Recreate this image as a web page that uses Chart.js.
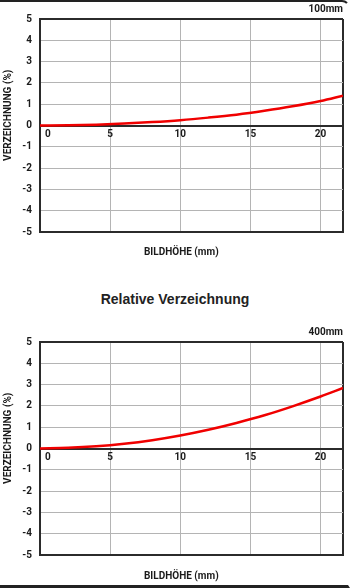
<!DOCTYPE html>
<html lang="de">
<head>
<meta charset="utf-8">
<title>Relative Verzeichnung</title>
<script src="https://cdn.jsdelivr.net/npm/chart.js@4/dist/chart.umd.min.js"></script>
<style>
  html, body { margin: 0; padding: 0; background: #fff; }
  body { width: 350px; height: 588px; position: relative; overflow: hidden; }
  .frame { position: absolute; left: -6px; top: 0; width: 354px; height: 583px;
           border-top: 2px solid #222; border-bottom: 3px solid #222; border-right: 2px solid transparent;
           border-radius: 0 8px 0 0; pointer-events: none; }
  canvas { position: absolute; left: 0; }
  #chart100 { top: 2px; }
  #chart400 { top: 325px; }
  .heading { position: absolute; top: 291px; left: 0; width: 350px; line-height: 16px;
             text-align: center; font: bold 14px "Liberation Sans", Arial, sans-serif; color: #222; }
</style>
</head>
<body>
<canvas id="chart100" width="350" height="258"></canvas>
<div class="heading">Relative Verzeichnung</div>
<canvas id="chart400" width="350" height="259"></canvas>
<div class="frame"></div>
<script>
// Bildhöhe in mm, Verzeichnung in %
const bildhoehe = [0, 2, 4, 6, 8, 10, 12, 14, 16, 18, 20, 21.6];
const verzeichnung100 = [0, 0.01, 0.04, 0.09, 0.16, 0.25, 0.37, 0.51, 0.69, 0.90, 1.15, 1.40];
const verzeichnung400 = [0, 0.03, 0.10, 0.22, 0.39, 0.61, 0.88, 1.20, 1.56, 1.98, 2.44, 2.84];
const xTicks = [0, 5, 10, 15, 20];
const yTicks = [-5, -4, -3, -2, -1, 0, 1, 2, 3, 4, 5];
const xMax = 21.6;

Chart.defaults.font.family = "Roboto, 'DejaVu Sans', sans-serif";
Chart.defaults.color = "#1a1a1a";

const frameColor = "#2b2b2b";
const gridColor = "#b4b4b4";
const gap = "\u2002\u2002\u2002\u2002"; // en spaces, pull the axis titles off-centre

function makeChart(id, focal, values, titleGap) {
  const ctx = document.getElementById(id).getContext("2d");
  return new Chart(ctx, {
    type: "line",
    data: {
      datasets: [{
        data: bildhoehe.map((x, i) => ({ x: x, y: values[i] })),
        borderColor: "#f00000",
        borderWidth: 2.5,
        pointRadius: 0,
        cubicInterpolationMode: "monotone",
        fill: false
      }]
    },
    options: {
      responsive: false,
      animation: false,
      devicePixelRatio: 1,
      layout: { padding: { left: 0, right: 7, top: 0, bottom: 0 } },
      plugins: {
        legend: { display: false },
        tooltip: { enabled: false },
        title: {
          display: true,
          text: focal,
          align: "end",
          font: { size: 10, weight: "bold" },
          color: "#1a1a1a",
          padding: { top: 1, bottom: 4 }
        }
      },
      scales: {
        // bottom axis only carries the title and the lower frame line
        x: {
          type: "linear",
          position: "bottom",
          min: 0,
          max: xMax,
          grid: { display: false, drawTicks: false },
          border: { display: true, color: frameColor, width: 2 },
          ticks: { display: false },
          title: {
            display: true,
            text: "BILDHÖHE (mm)" + gap,
            font: { size: 10, weight: "bold" },
            color: "#1a1a1a",
            padding: { top: titleGap, bottom: 2 }
          }
        },
        // tick axis sitting on the zero line
        xt: {
          type: "linear",
          position: { y: 0 },
          min: 0,
          max: xMax,
          afterBuildTicks: (axis) => {
            axis.ticks = xTicks.map(v => ({ value: v })).concat([{ value: xMax }]);
          },
          afterFit: (axis) => { axis.height = 0; },
          grid: {
            drawTicks: false,
            color: (c) => c.tick && c.tick.value === xMax ? frameColor : gridColor,
            lineWidth: (c) => c.tick && c.tick.value === xMax ? 2 : 1
          },
          border: { display: true, color: frameColor, width: 2 },
          ticks: {
            autoSkip: false,
            align: "inner",
            padding: 3,
            font: { size: 10, weight: "bold" },
            color: "#1a1a1a",
            callback: (v) => v === xMax ? "" : (v === 0 ? "\u20020" : String(v))
          }
        },
        y: {
          type: "linear",
          min: -5,
          max: 5,
          afterBuildTicks: (axis) => {
            axis.ticks = yTicks.map(v => ({ value: v }));
          },
          afterFit: (axis) => { axis.width = 40; },
          grid: {
            drawTicks: false,
            color: (c) => c.tick && c.tick.value === 5 ? frameColor : gridColor,
            lineWidth: (c) => c.tick && c.tick.value === 5 ? 2 : 1
          },
          border: { display: true, color: frameColor, width: 2 },
          ticks: {
            padding: 8,
            font: { size: 10, weight: "bold" },
            color: "#1a1a1a"
          },
          title: {
            display: true,
            text: gap + "VERZEICHNUNG (%)",
            font: { size: 10, weight: "bold" },
            color: "#1a1a1a",
            padding: { top: 2, bottom: 4 }
          }
        }
      }
    }
  });
}

makeChart("chart100", "100mm", verzeichnung100, 14);
makeChart("chart400", "400mm", verzeichnung400, 15);
</script>
</body>
</html>
